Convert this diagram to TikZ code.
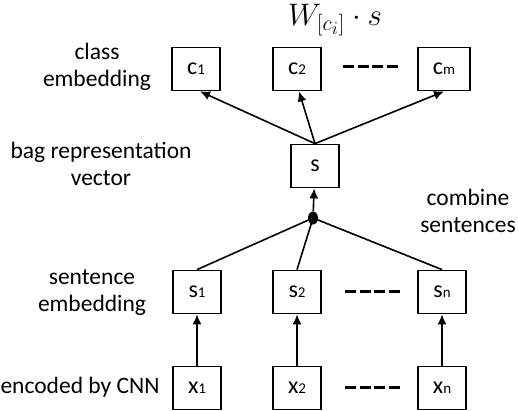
\documentclass[tikz,border=0pt]{standalone}
\usepackage{fontspec}
\setmainfont{Carlito}
\usetikzlibrary{arrows.meta,shapes.geometric}
\begin{document}
\begin{tikzpicture}[x=1pt,y=-1pt,
  box/.style={draw,line width=1.8pt,minimum width=48pt,minimum height=43pt,inner sep=0pt,font=\fontsize{24}{26}\selectfont},
  lbl/.style={align=center,font=\fontsize{23.5}{27}\selectfont},
  conn/.style={line width=1.6pt},
  arr/.style={conn,-{Latex[length=10pt,width=9pt]}},
  dsh/.style={line width=3pt,dash pattern=on 11pt off 3.5pt}]
\useasboundingbox (0,0) rectangle (518,410);
\newcommand{\sub}[1]{{\fontsize{15}{16}\selectfont #1}}
% top row
\node[box] (c1) at (196,69) {c\sub{1}};
\node[box] (c2) at (297,69) {c\sub{2}};
\node[box,minimum width=52pt] (cm) at (444,69) {c\sub{m}};
\node[anchor=base,inner sep=0pt] (W) at (335,25) {\scalebox{1.5}{\fontsize{20.74}{24}\selectfont$W_{[c_i]}\cdot s$}};
% s
\node[box] (s) at (315,166) {s};
\node[ellipse,fill,inner sep=0pt,minimum width=10pt,minimum height=13pt] (dot) at (313,218) {};
% sentence row
\node[box] (s1) at (197,292) {s\sub{1}};
\node[box] (s2) at (297,292) {s\sub{2}};
\node[box] (sn) at (442,292) {s\sub{n}};
% x row
\node[box] (x1) at (197,388) {x\sub{1}};
\node[box] (x2) at (297,388) {x\sub{2}};
\node[box] (xn) at (442,388) {x\sub{n}};
% dashes
\coordinate (d1a) at (343,66); \coordinate (d1b) at (401,66);
\coordinate (d2a) at (345,291); \coordinate (d2b) at (403,291);
\coordinate (d3a) at (345,387); \coordinate (d3b) at (403,387);
\draw[dsh] (d1a) -- (d1b);
\draw[dsh] (d2a) -- (d2b);
\draw[dsh] (d3a) -- (d3b);
% labels
\node[lbl] (l1) at (97,67) {class\\embedding};
\node[lbl] (l2) at (101,164) {bag representation\\vector};
\node[lbl] (l3) at (468,211) {combine\\sentences};
\node[lbl] (l4) at (92,293) {sentence\\embedding};
\node[lbl] (l5) at (80,387) {encoded by CNN};
% connectors
\draw[arr] (x1) -- (s1);
\draw[arr] (x2) -- (s2);
\draw[arr] (xn) -- (sn);
\draw[conn] (s1.north) -- (dot.center);
\draw[conn] (s2.north) -- (dot.center);
\draw[conn] (sn.north) -- (dot.center);
\draw[arr] (dot) -- (s);
\draw[arr] (s.north) -- ([xshift=4pt]c1.south);
\draw[arr] (s.north) -- ([xshift=2pt]c2.south);
\draw[arr] (s.north) -- (cm.south);
\end{tikzpicture}
\end{document}
